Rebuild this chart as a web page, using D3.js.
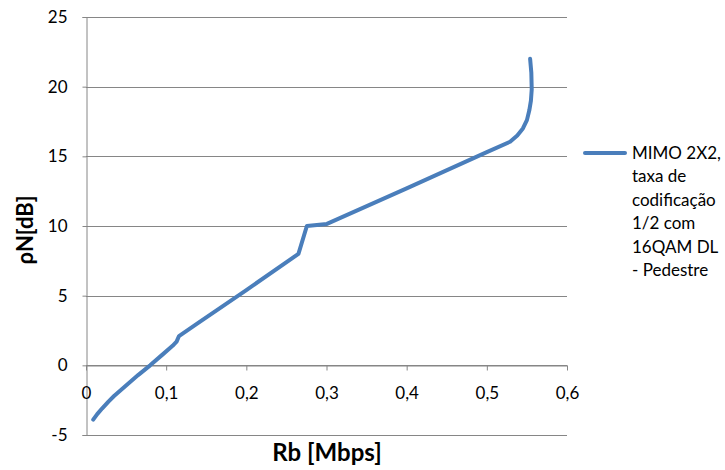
<!DOCTYPE html>
<html><head><meta charset="utf-8">
<script src="https://cdn.jsdelivr.net/npm/d3@7"></script>
<style>
body{margin:0;background:#fff;}
svg{display:block;font-family:Lato,"Open Sans",sans-serif;}
</style></head>
<body><svg id="c" width="725" height="470"></svg>
<script>
const rbValues = [0.009,0.014,0.02,0.028,0.035,0.05,0.065,0.08,0.095,0.108,0.113,0.116,0.14,0.2,0.265,0.2755,0.3005,0.4,0.5,0.529,0.538,0.545,0.55,0.553,0.555,0.556,0.5555,0.554];
const pnValues = [-3.9,-3.5,-3.1,-2.6,-2.2,-1.45,-0.7,0,0.75,1.4,1.7,2.1,3.05,5.4,8.0,10.0,10.15,12.7,15.3,16.05,16.5,17.0,17.6,18.3,19.0,19.8,21.0,22.0];
const xTicks = [0,0.1,0.2,0.3,0.4,0.5,0.6];
const yTicks = [-5,0,5,10,15,20,25];
const seriesName = ["MIMO 2X2,","taxa de","codificação","1/2 com","16QAM DL","- Pedestre"];
const xTitle = "Rb [Mbps]";
const yTitle = "ρN[dB]";

const svg = d3.select("#c");
const x = d3.scaleLinear().domain([0,0.6]).range([86,567]);
const y = d3.scaleLinear().domain([-5,25]).range([435,17]);
const grid = "#868686";
const fmt = d => String(d).replace(".", ",");

// gridlines
svg.append("g").selectAll("line").data(yTicks).join("line")
  .attr("x1", x(0)).attr("x2", x(0.6))
  .attr("y1", d => Math.round(y(d))+0.5).attr("y2", d => Math.round(y(d))+0.5)
  .attr("stroke", grid).attr("stroke-width",1);

// y axis
const yAxis = svg.append("g").attr("transform", `translate(${Math.round(x(0))+0.5},0)`)
  .call(d3.axisLeft(y).tickValues(yTicks).tickSize(4).tickPadding(15).tickFormat(fmt));
yAxis.select(".domain").attr("stroke", grid);
yAxis.selectAll(".tick line").attr("stroke", grid);
yAxis.selectAll("text").attr("font-size",17).attr("fill","#000").attr("font-family","Lato,sans-serif");

// x axis at y=0
const xAxis = svg.append("g").attr("transform", `translate(0,${Math.round(y(0))+0.5})`)
  .call(d3.axisBottom(x).tickValues(xTicks).tickSize(5).tickSizeOuter(0).tickPadding(16).tickFormat(fmt));
xAxis.select(".domain").attr("stroke", grid);
xAxis.selectAll(".tick line").attr("stroke", grid);
xAxis.selectAll("text").attr("font-size",17).attr("fill","#000").attr("font-family","Lato,sans-serif");

// line
const data = rbValues.map((v,i)=>[v,pnValues[i]]);
svg.append("path").datum(data)
  .attr("fill","none").attr("stroke","#4a7ebb").attr("stroke-width",4)
  .attr("stroke-linecap","round").attr("stroke-linejoin","round")
  .attr("d", d3.line().x(d=>x(d[0])).y(d=>y(d[1])));

// titles
svg.append("text").attr("x",327).attr("y",461).attr("text-anchor","middle")
  .attr("font-size",24).attr("font-weight","bold").text(xTitle);
svg.append("text").attr("transform","translate(33,230) rotate(-90)").attr("text-anchor","middle")
  .attr("font-size",22).attr("font-weight","bold").text(yTitle);

// legend
svg.append("line").attr("x1",585).attr("x2",625).attr("y1",153).attr("y2",153)
  .attr("stroke","#4a7ebb").attr("stroke-width",4).attr("stroke-linecap","round");
svg.append("g").selectAll("text").data(seriesName).join("text")
  .attr("x",632).attr("y",(d,i)=>159+i*23.4)
  .attr("font-size",17).text(d=>d);
</script></body></html>
